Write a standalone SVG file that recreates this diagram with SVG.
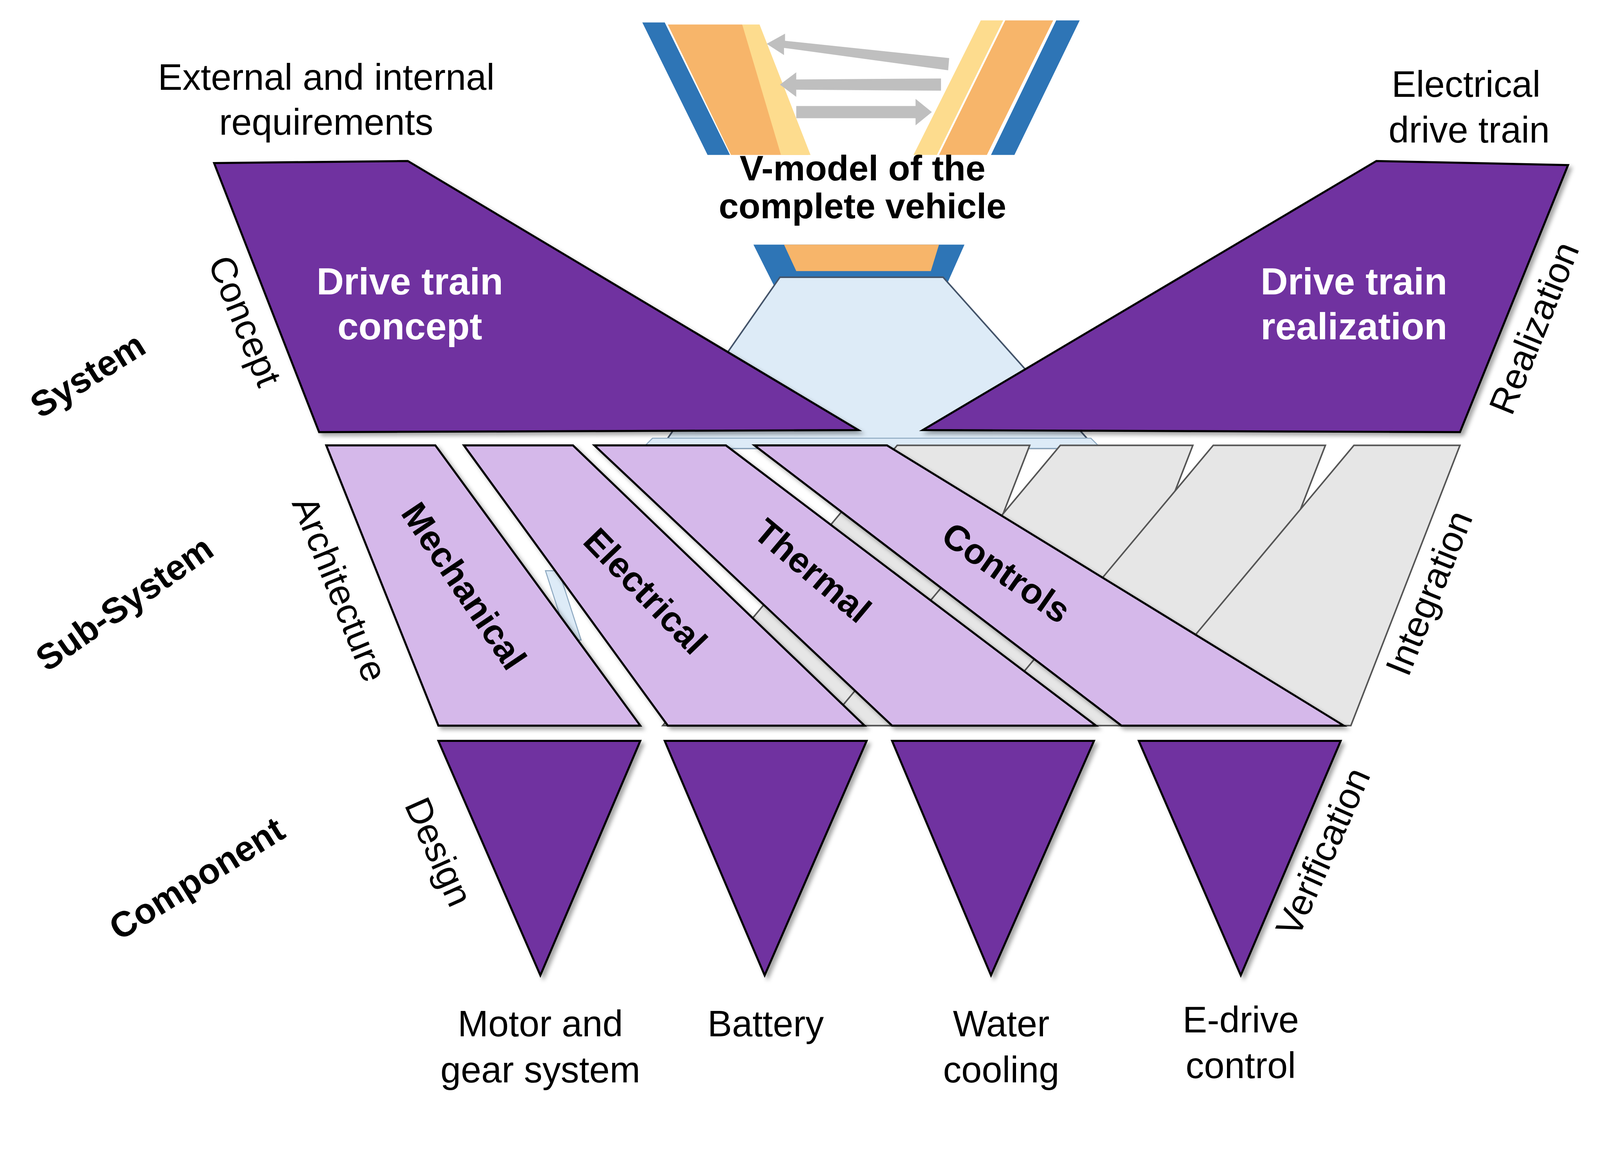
<svg xmlns="http://www.w3.org/2000/svg" width="4294" height="2981" viewBox="0 0 4294 2981">
<style>
text{font-family:"Liberation Sans",Arial,sans-serif;fill:#000}
.t{font-size:36px;text-anchor:middle}
.b{font-size:35px;font-weight:bold;text-anchor:middle}
.w{font-size:37px;font-weight:bold;text-anchor:middle;fill:#fff}
.dp{fill:#7030A0;stroke:#000;stroke-width:2}
.lp{fill:#D5B8EA;stroke:#000;stroke-width:2}
.gr{fill:#E6E6E6;stroke:#555;stroke-width:1.5}
.blue{fill:#2E75B6}
.org{fill:#F7B56A}
.yel{fill:#FDDC8E}
.arr{fill:#BFBFBF}
</style>
<defs>
<filter id="sh" x="-10%" y="-10%" width="130%" height="130%"><feDropShadow dx="3" dy="3" stdDeviation="2" flood-color="#000" flood-opacity="0.35"/></filter>
</defs>
<rect width="4294" height="2981" fill="#fff"/>
<g transform="scale(2.61)">
<g id="vmodel">
<polygon class="blue" points="630,22 652,22 716,152 694,152"/>
<polygon class="org" points="655,24 728,24 793,152 717,152"/>
<polygon class="yel" points="728,24 745,24 795,152 766,152"/>
<polygon class="yel" points="962,20 984,20 919,152 896,152"/>
<polygon class="org" points="986,20 1033,20 968,152 921,152"/>
<polygon class="blue" points="1036,20 1059,20 995,152 972,152"/>
<polygon class="arr" points="931,57 770,40 770,33 752,43 769,54 769,47 930,69"/>
<polygon class="arr" points="923,77 781,78 781,71 765,83 781,95 781,88 923,89"/>
<polygon class="arr" points="781,104 898,104 898,97 914,110 898,123 898,116 781,116"/>
<text class="b" x="846" y="177" font-size="38">V-model of the</text>
<text class="b" x="846" y="214" font-size="38">complete vehicle</text>
<polygon class="blue" points="739,240 946,240 923,292 765,292"/>
<polygon class="org" points="769,240 921,240 913,266 781,266"/>
<polygon points="765,272 925,272 1075,440 648,440" fill="#DDEBF7" stroke="#44546A" stroke-width="1.5"/>
</g>
<g id="system">
<polygon class="dp" filter="url(#sh)" points="210,160 400,158 842,422 313,424"/>
<polygon class="dp" filter="url(#sh)" points="905,422 1350,158 1538,162 1432,424"/>
<text class="w" x="402" y="289">Drive train</text>
<text class="w" x="402" y="333">concept</text>
<text class="w" x="1328" y="289">Drive train</text>
<text class="w" x="1328" y="333">realization</text>
</g>
<g id="connectors" fill="#DDEBF7" stroke="#8EA9C1" stroke-width="1">
<polygon points="640,430 1070,430 1080,440 630,440"/>
<polygon points="535,560 548,560 570,628 557,628"/>
<polygon points="760,600 775,600 790,640 775,640"/>
<polygon points="870,540 885,540 895,560 880,560"/>
<polygon points="1090,520 1105,525 1060,555 1048,548"/>
<polygon points="1190,580 1205,585 1185,625 1172,620"/>
<polygon points="960,470 975,475 950,495 938,490"/>
</g>
<g id="gray">
<polygon class="gr" points="880,437 1010,437 903,712 650,712"/>
<polygon class="gr" points="1040,437 1170,437 1063,712 810,712"/>
<polygon class="gr" points="1190,437 1300,437 1193,712 960,712"/>
<polygon class="gr" points="1328,437 1432,437 1325,712 1098,712"/>
</g>
<g id="subsystem">
<polygon class="lp" filter="url(#sh)" points="320,437 427,437 628,712 430,712"/>
<polygon class="lp" filter="url(#sh)" points="455,437 562,437 848,712 655,712"/>
<polygon class="lp" filter="url(#sh)" points="583,437 712,437 1075,712 875,712"/>
<polygon class="lp" filter="url(#sh)" points="740,437 870,437 1318,712 1100,712"/>
<text class="b" transform="translate(455,575) rotate(56)" dy="12">Mechanical</text>
<text class="b" transform="translate(633,580) rotate(46)" dy="12">Electrical</text>
<text class="b" transform="translate(797,560) rotate(40)" dy="12">Thermal</text>
<text class="b" transform="translate(987,562) rotate(35)" dy="12">Controls</text>
</g>
<g id="component">
<polygon class="dp" filter="url(#sh)" points="430,727 628,727 530,957"/>
<polygon class="dp" filter="url(#sh)" points="652,727 850,727 750,957"/>
<polygon class="dp" filter="url(#sh)" points="875,727 1073,727 972,957"/>
<polygon class="dp" filter="url(#sh)" points="1117,727 1315,727 1217,957" stroke="#2E75B6"/>
</g>
<g id="labels">
<text class="t" x="320" y="88">External and internal</text>
<text class="t" x="320" y="132">requirements</text>
<text class="t" x="1438" y="95">Electrical</text>
<text class="t" x="1441" y="140">drive train</text>
<text class="b" transform="translate(86,368) rotate(-32)" dy="12">System</text>
<text class="b" transform="translate(122,592) rotate(-35)" dy="12">Sub-System</text>
<text class="b" transform="translate(193,862) rotate(-32)" dy="12">Component</text>
<text class="t" transform="translate(240,315) rotate(68)" dy="12">Concept</text>
<text class="t" transform="translate(333,578) rotate(68)" dy="12">Architecture</text>
<text class="t" transform="translate(430,836) rotate(66)" dy="12">Design</text>
<text class="t" transform="translate(1505,322) rotate(-68)" dy="12">Realization</text>
<text class="t" transform="translate(1402,582) rotate(-68)" dy="12">Integration</text>
<text class="t" transform="translate(1298,836) rotate(-66)" dy="12">Verification</text>
<text class="t" x="530" y="1017">Motor and</text>
<text class="t" x="530" y="1062">gear system</text>
<text class="t" x="751" y="1017">Battery</text>
<text class="t" x="982" y="1017">Water</text>
<text class="t" x="982" y="1062">cooling</text>
<text class="t" x="1217" y="1013">E-drive</text>
<text class="t" x="1217" y="1058">control</text>
</g>
</g>
</svg>
